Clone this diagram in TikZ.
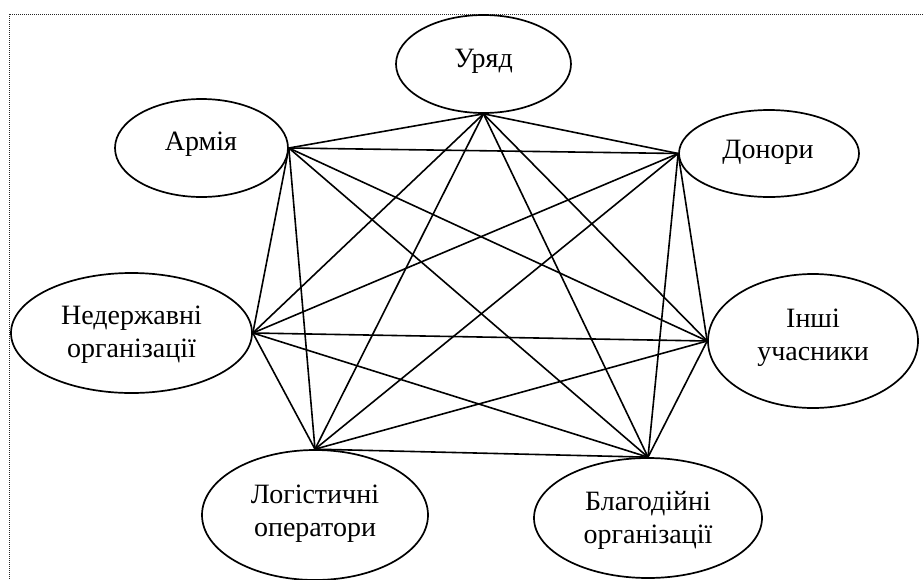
\documentclass[tikz,border=0pt]{standalone}
\usepackage{fontspec}
\setmainfont{Liberation Serif}
\newfontfamily\tnrfont{Liberation Serif}
\usetikzlibrary{shapes.geometric}
\begin{document}
\begin{tikzpicture}[x=1pt,y=-1pt,
  actor/.style={ellipse,draw,line width=1.7pt,inner sep=0pt},
  txt/.style={inner sep=0pt,align=center,font=\tnrfont\fontsize{28}{33}\selectfont},
  link/.style={line width=1.6pt},
  frameline/.style={line width=1pt,dash pattern=on 1pt off 1pt,black!85}]
\useasboundingbox (0,0) rectangle (923,579);
\clip (0,0) rectangle (923,579);
\draw[frameline] (923,14) -- (9,14) -- (9,579);
\node[actor,minimum width=175pt,minimum height=98pt] (gov) at (483.5,64) {};
\node[actor,minimum width=173pt,minimum height=98pt] (army) at (201.5,148) {};
\node[actor,minimum width=180pt,minimum height=87pt] (don) at (769,153.5) {};
\node[actor,minimum width=241pt,minimum height=120pt] (ngo) at (131.5,333) {};
\node[actor,minimum width=210pt,minimum height=134pt] (oth) at (813,341) {};
\node[actor,minimum width=226pt,minimum height=130pt] (log) at (315,515) {};
\node[actor,minimum width=228pt,minimum height=120pt] (char) at (648,518) {};
\node[txt] (govt) at (483.5,61.5) {Уряд};
\node[txt] (armyt) at (201,144.5) {Армія};
\node[txt] (dont) at (768,152.5) {Донори};
\node[txt] (ngot) at (131.5,335) {Недержавні\\організації};
\node[txt] (otht) at (813,338) {Інші\\учасники};
\node[txt] (logt) at (315,514) {Логістичні\\оператори};
\node[txt] (chart) at (648,520) {Благодійні\\організації};
\draw[link] (gov.south) -- (army.east);
\draw[link] (gov.south) -- (don.west);
\draw[link] (gov.south) -- (ngo.east);
\draw[link] (gov.south) -- (oth.west);
\draw[link] (gov.south) -- (log.north);
\draw[link] (gov.south) -- (char.north);
\draw[link] (army.east) -- (don.west);
\draw[link] (army.east) -- (ngo.east);
\draw[link] (army.east) -- (oth.west);
\draw[link] (army.east) -- (log.north);
\draw[link] (army.east) -- (char.north);
\draw[link] (don.west) -- (ngo.east);
\draw[link] (don.west) -- (oth.west);
\draw[link] (don.west) -- (log.north);
\draw[link] (don.west) -- (char.north);
\draw[link] (ngo.east) -- (oth.west);
\draw[link] (ngo.east) -- (log.north);
\draw[link] (ngo.east) -- (char.north);
\draw[link] (oth.west) -- (log.north);
\draw[link] (oth.west) -- (char.north);
\draw[link] (log.north) -- (char.north);
\end{tikzpicture}
\end{document}
